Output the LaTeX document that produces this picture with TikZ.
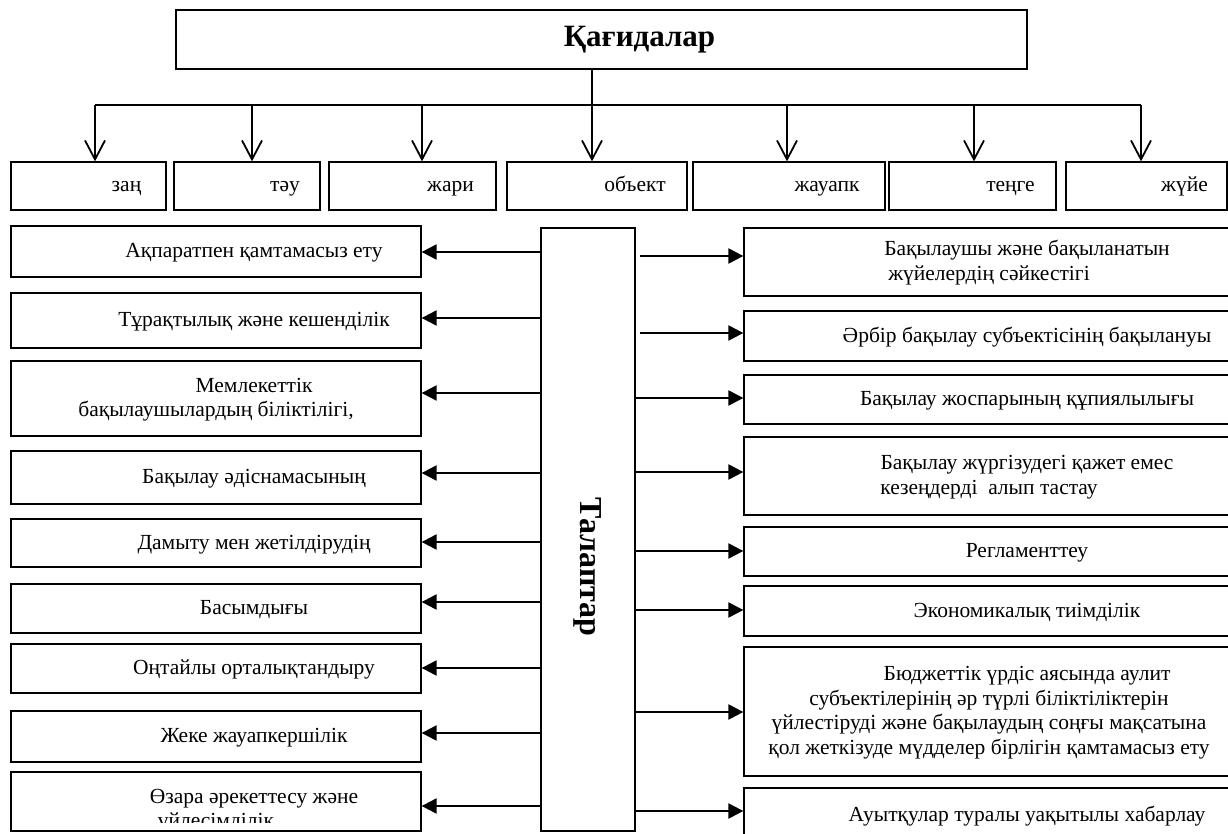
\documentclass[tikz,border=0pt]{standalone}
\usepackage{fontspec}
\setmainfont{Liberation Serif}
\usetikzlibrary{arrows.meta,positioning}
\tikzset{>=Latex}
\tikzset{box/.style={draw,line width=1.3pt,inner sep=0pt,align=center,font=\fontsize{21.5}{24.5}\selectfont}}
\newcommand\st{\rule[-5pt]{0pt}{22pt}}
\newcommand\ind{\hspace*{76pt}\st}

\begin{document}
\begin{tikzpicture}[x=1pt,y=-1pt,
  down/.style={line width=1.8pt,-{Straight Barb[length=19pt,width=20pt]}},
  side/.style={line width=2.2pt,-{Triangle[length=15pt,width=15pt]}}]
  \useasboundingbox (0,0) rectangle (1228,834);
  % Title and principles
  \node[box,minimum width=851pt,minimum height=59pt,font=\fontsize{31}{36}\selectfont\bfseries] (rules) at (601.5,39.5) {\ind Қағидалар\rule[-6pt]{0pt}{27pt}};
  \foreach \n/\x/\w/\t in {1/88.5/155/заң,2/247/146/тәу,3/412.5/167/жари,4/597/180/объект,5/789/192/жауапк,6/972.5/167/теңге,7/1146.5/161/жүйе}
    \node[box,minimum width=\w pt,minimum height=48pt] (p\n) at (\x,186) {\ind \t\st};
  \foreach \n/\x in {1/95,2/252,3/422,4/592,5/787,6/974,7/1141}
    \coordinate (b\n) at (\x,105);
  \draw[line width=1.3pt] (rules.south -| b4) -- (b4);
  \draw[line width=1.3pt] (b1) -- (b7);
  \foreach \n in {1,...,7}
    \draw[down] (b\n) -- (b\n |- p\n.north);
  % Requirements
  \node[box,minimum width=94pt,minimum height=603pt] (tal) at (588,529.5) {};
  \node[rotate=-90,font=\fontsize{32}{36}\selectfont\bfseries] (taltext) at ([yshift=-37.5pt]tal.center) {Талаптар};
  \foreach \n/\y/\h/\t in {1/251.5/51/{Ақпаратпен қамтамасыз ету},
      2/320.5/55/{Тұрақтылық және кешенділік},
      3/398.5/75/{Мемлекеттік\\бақылаушылардың біліктілігі,},
      4/477.5/53/{Бақылау әдіснамасының},
      5/543/48/{Дамыту мен жетілдірудің},
      6/608.5/49/{Басымдығы},
      7/668.5/49/{Оңтайлы орталықтандыру},
      8/736.5/51/{Жеке жауапкершілік}}
    \node[box,minimum width=410pt,minimum height=\h pt] (l\n) at (216,\y) {\ind \t\st};
  \node[box,minimum width=410pt,minimum height=59pt] (l9) at (216,801.5) {};
  \begin{scope}
    \clip (l9.north west) rectangle ([yshift=9pt]l9.south east);
    \node[box,draw=none,anchor=north] (l9text) at ([yshift=-14pt]l9.north) {\ind Өзара әрекеттесу және\\үйлесімділік\st};
  \end{scope}
  \foreach \n/\y/\h/\t in {1/262/68/{Бақылаушы және бақыланатын\\жүйелердің сәйкестігі},
      2/336/50/{Әрбір бақылау субъектісінің бақылануы},
      3/399.5/49/{Бақылау жоспарының құпиялылығы},
      4/476/78/{Бақылау жүргізудегі қажет емес\\кезеңдерді\ \ алып тастау},
      5/551.5/49/{Регламенттеу},
      6/611/50/{Экономикалық тиімділік},
      7/711.5/129/{Бюджеттік үрдіс аясында аулит\\субъектілерінің әр түрлі біліктіліктерін\\үйлестіруді және бақылаудың соңғы мақсатына\\қол жеткізуде мүдделер бірлігін қамтамасыз ету},
      8/815/54/{Ауытқулар туралы уақытылы хабарлау}}
    \node[box,minimum width=490pt,minimum height=\h pt] (r\n) at (989,\y) {\ind \t\st};
  % Arrows
  \foreach \n/\y in {1/252,2/318,3/393,4/473,5/542,6/602,7/668,8/733,9/806}
    \draw[side] (tal.west |- 0,\y) -- (l\n.east |- 0,\y);
  \foreach \n/\y/\s in {1/256/4,2/333/4,3/398/0,4/472/0,5/551/0,6/610/0,7/712/0,8/811/0}
    \draw[side,shorten <=\s pt] (tal.east |- 0,\y) -- (r\n.west |- 0,\y);
\end{tikzpicture}
\end{document}
